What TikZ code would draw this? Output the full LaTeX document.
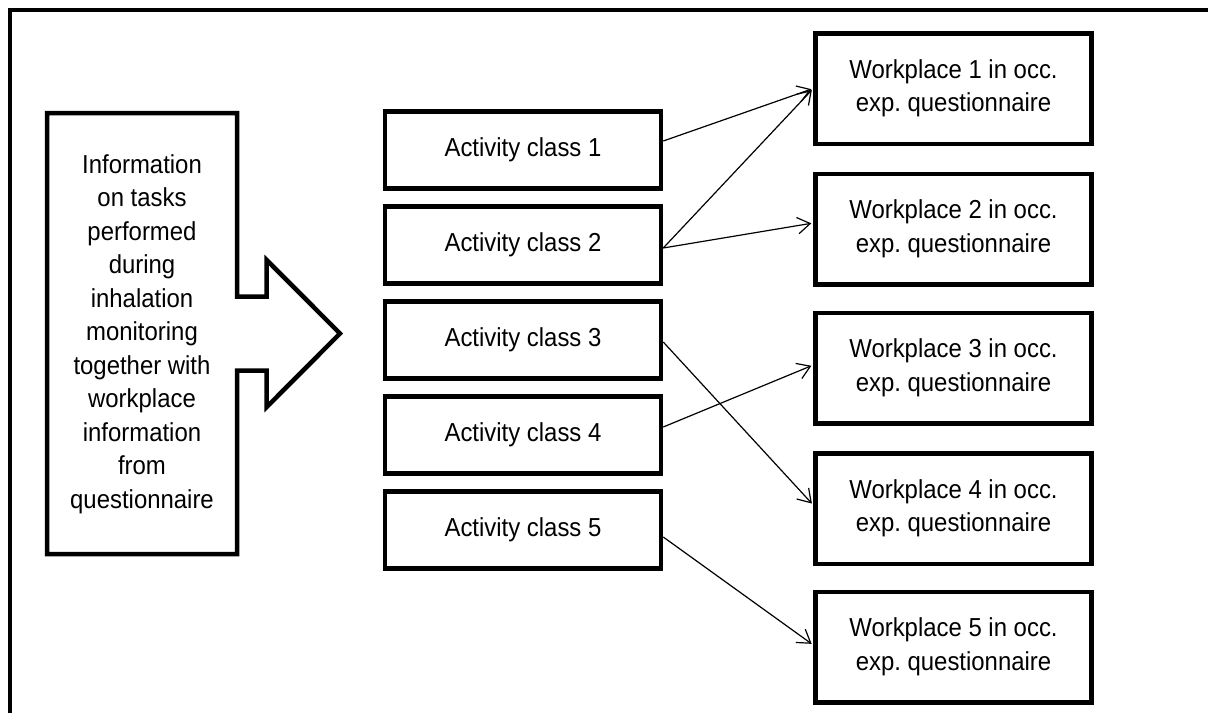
\documentclass[tikz,border=0pt]{standalone}
\usepackage{fontspec}
\setmainfont{Liberation Sans}[FakeStretch=0.92]
\usetikzlibrary{arrows.meta}
\frenchspacing
\begin{document}
\begin{tikzpicture}[x=1pt,y=-1pt,
  thick line/.style={line width=4.5pt,line join=miter},
  box/.style={draw,thick line,rectangle,minimum width=276pt,inner sep=0pt,
    align=center,font=\fontsize{26}{33.5}\selectfont},
  abox/.style={box,minimum height=77pt},
  wbox/.style={box,minimum height=110.5pt},
  conn/.style={line width=1.2pt,-{Straight Barb[angle=66:15pt]},shorten >=2pt}]
\useasboundingbox (0,0) rectangle (1208,713);
% outer frame (only top and left visible)
\draw[thick line] (10,713) -- (10,10) -- (1208,10);
% left block arrow
\draw[thick line] (47,113) -- (237,113) -- (237,296.5) -- (266.7,296.5) -- (266.7,260)
  -- (340,333.5) -- (266.7,407) -- (266.7,370.5) -- (237,370.5) -- (237,554) -- (47,554) -- cycle;
\node[align=center,font=\fontsize{26}{33.5}\selectfont] (info) at (142,334)
  {Information\\on tasks\\performed\\during\\inhalation\\monitoring\\together with\\workplace\\information\\from\\questionnaire};
% activity classes
\node[abox] (a1) at (523,150) {Activity class 1};
\node[abox] (a2) at (523,245) {Activity class 2};
\node[abox] (a3) at (523,340) {Activity class 3};
\node[abox] (a4) at (523,435) {Activity class 4};
\node[abox] (a5) at (523,530) {Activity class 5};
% workplaces
\node[wbox] (w1) at (953.5,88.5) {Workplace 1 in occ.\\exp. questionnaire};
\node[wbox] (w2) at (953.5,229) {Workplace 2 in occ.\\exp. questionnaire};
\node[wbox] (w3) at (953.5,368) {Workplace 3 in occ.\\exp. questionnaire};
\node[wbox] (w4) at (953.5,508.5) {Workplace 4 in occ.\\exp. questionnaire};
\node[wbox] (w5) at (953.5,647) {Workplace 5 in occ.\\exp. questionnaire};
% connectors
\draw[conn] ([yshift=9pt]a1.east) -- (w1.west);
\draw[conn] ([yshift=-3pt]a2.east) -- (w1.west);
\draw[conn] ([yshift=-3pt]a2.east) -- ([yshift=6pt]w2.west);
\draw[conn] ([yshift=-2pt]a3.east) -- ([yshift=3.5pt]w4.west);
\draw[conn] ([yshift=8pt]a4.east) -- ([yshift=3pt]w3.west);
\draw[conn] ([yshift=-7pt]a5.east) -- ([yshift=2pt]w5.west);
\end{tikzpicture}
\end{document}
